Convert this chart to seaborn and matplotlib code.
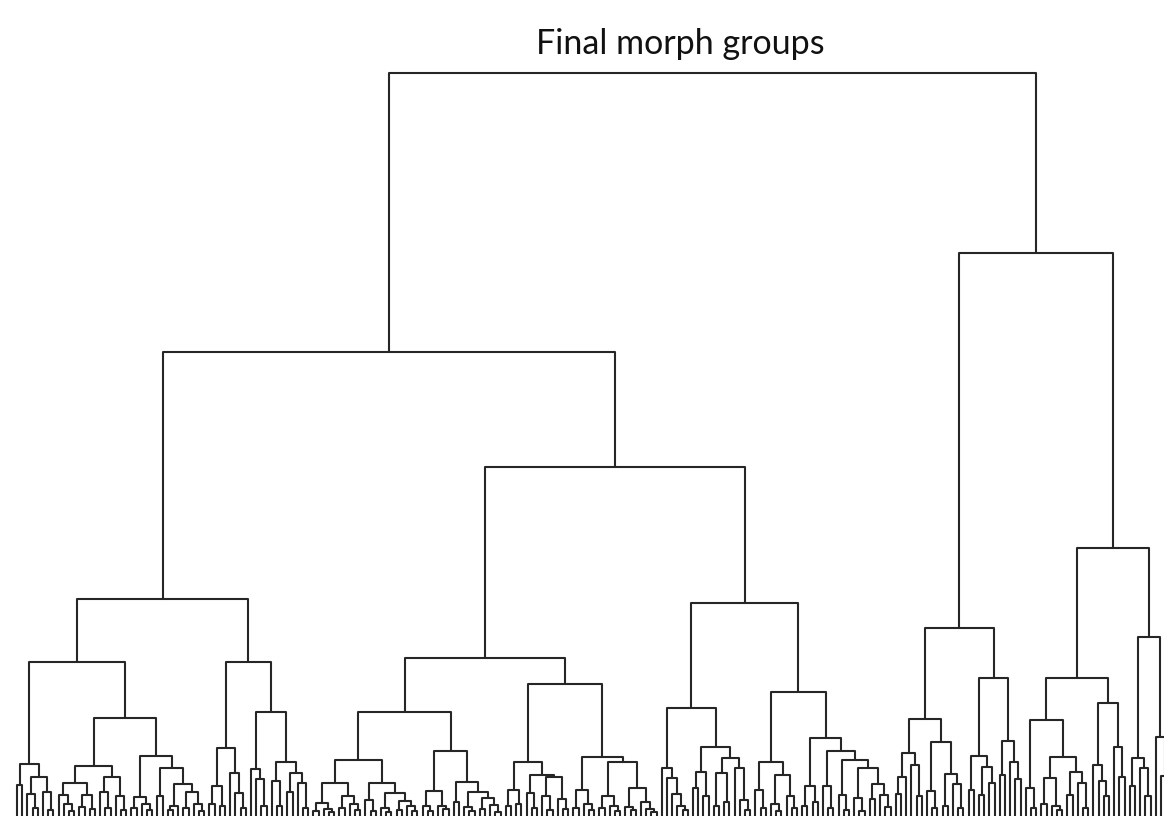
import matplotlib
matplotlib.use("Agg")
import matplotlib.pyplot as plt
import numpy as np
import pandas as pd
import seaborn as sns

# ---------------- data: tree in Newick-like form, "a" = leaf, number after ")" = merge height
title = "Final morph groups"

# left main branch, first group
P   = "((a,a)31,((a,(a,a)8)22,(a,(a,a)6)24)39)52"
Q1a = "((a,(a,(a,a)5)12)21,((a,a)9,(a,a)7)21)33"
Q1b = "((a,(a,a)8)24,(a,(a,a)6)20)39"
Q2a = "((a,a)8,(a,(a,a)6)12)19"
Q2b = "((a,a)20,(((a,a)6,a)10,((a,a)8,(a,(a,a)5)12)24)32)48"
# second group
C1L = "((a,a)12,(a,a)10)30"
C1R = "(a,(a,(a,a)8)23)43"
C2L = "(a,(a,(a,a)10)37)47"
C2R = "((a,(a,a)10)35,((a,a)24,(a,(a,a)8)33)43)54"
# third group
D1L = "(((a,a)5,(a,(a,a)4)7)13,((a,a)8,(a,(a,a)6)12)20)33"
D1R = "((a,(a,a)5)16,((a,(a,a)4)8,((a,a)6,(a,(a,a)5)10)15)23)33"
D2L = "((a,(a,a)5)10,(a,(a,a)7)10)25"
D2R = "((a,a)14,((a,(a,a)5)9,((a,a)7,(a,(a,a)4)11)18)24)34"
E1L = "((a,a)10,(a,a)12)26"
E1R = "((a,(a,a)8)23,((a,(a,a)6)20,(a,(a,a)7)17)39)41"
E2L = "((a,a)8,(a,(a,a)6)12)26"
E2R = "(((a,a)8,(a,(a,a)5)10)20,((a,(a,a)6)9,(a,(a,(a,a)4)7)14)28)54"
# fourth group
F1  = "(a,(a,(a,(a,(a,a)6)10)22)38)48"
F2L = "((a,a)28,(a,a)20)44"
F2R = "(((a,a)10,(a,a)14)43,(a,(a,(a,a)6)16)48)58"
G1  = "((a,(a,a)8)26,((a,(a,a)5)12,(a,(a,a)8)20)41)54"
G2  = "((a,a)10,(a,a)14)30"
G3  = "(a,(a,a)8)30"
G4  = "(a,(a,a)6)21"
G5  = "(a,(a,a)5)18"
G6  = "((a,a)17,(a,(a,a)9)21)32"
# right main branch
H1 = "((a,a)22,a)39"
H2 = "(a,(a,a)20)51"
H3 = "(a,(a,a)8)25"
H4 = "((a,a)10,(a,(a,a)8)32)42"
I1 = "((a,a)26,((a,a)21,(a,a)33)49)60"
I2 = "((a,a)41,(a,(a,a)37)54)75"
J1 = "(a,(a,a)8)28"
J2 = "(((a,a)12,(a,(a,a)6)10)38,((a,a)21,(a,(a,a)8)33)44)59"
K1 = "(a,(a,(a,a)20)35)51"
K2 = "(a,(a,a)39)69"
L1 = "((a,a)30,(a,(a,a)20)48)58"
L2 = "(a,(a,(a,a)20)40)79"

A1a = f"({P},(({Q1a},{Q1b})50,({Q2a},{Q2b})60)98)154"
A1b = f"(({C1L},{C1R})68,({C2L},{C2R})104)154"
A2a = f"((({D1L},{D1R})56,({D2L},{D2R})65)104,(({E1L},{E1R})54,({E2L},{E2R})59)132)158"
A2b = f"(({F1},({F2L},{F2R})69)108,({G1},({G2},({G3},({G4},({G5},{G6})48)56)65)78)124)213"
B1 = f"((({H1},{H2})63,({H3},{H4})74)97,({I1},{I2})138)188"
B2 = f"((({J1},{J2})96,({K1},{K2})113)138,({L1},{L2})179)268"
tree = f"((({A1a},{A1b})217,({A2a},{A2b})349)464,({B1},{B2})563)743"


# ---------------- parse
def parse(s):
    pos = 0

    def node():
        nonlocal pos
        if s[pos] == "a":
            pos += 1
            return {"children": [], "h": 0.0}
        assert s[pos] == "("
        pos += 1
        kids = [node()]
        while s[pos] == ",":
            pos += 1
            kids.append(node())
        assert s[pos] == ")"
        pos += 1
        start = pos
        while pos < len(s) and (s[pos].isdigit() or s[pos] == "."):
            pos += 1
        return {"children": kids, "h": float(s[start:pos])}

    return node()


root = parse(tree)

leaf_counter = [0]


def layout(n):
    if not n["children"]:
        n["x"] = float(leaf_counter[0])
        leaf_counter[0] += 1
    else:
        for c in n["children"]:
            layout(c)
        xs = [c["x"] for c in n["children"]]
        n["x"] = (xs[0] + xs[-1]) / 2.0


layout(root)

rows = []
seg = [0]


def collect(n):
    if not n["children"]:
        return
    kids = n["children"]
    a, b = kids[0], kids[-1]
    pts = [(a["x"], a["h"]), (a["x"], n["h"]), (b["x"], n["h"]), (b["x"], b["h"])]
    for i, (x, y) in enumerate(pts):
        rows.append({"seg": seg[0], "order": i, "x": x, "y": y})
    seg[0] += 1
    for c in kids:
        collect(c)


collect(root)
df = pd.DataFrame(rows)

# ---------------- draw
sns.set_theme(style="white")
plt.rcParams["font.family"] = ["Lato", "DejaVu Sans"]

W, H = 1164, 816
fig = plt.figure(figsize=(W / 100, H / 100), dpi=100)
ax = fig.add_axes([0, 0, 1, 1])

sns.lineplot(data=df, x="x", y="y", units="seg", estimator=None, sort=False,
             color="#262626", linewidth=1.5, ax=ax, legend=False)

first_px, step_px = 17.0, 5.2
ax.set_xlim(-first_px / step_px, (W - first_px) / step_px)
ax.set_ylim(0, H)
ax.axis("off")

fig.text(680 / W, 1 - 44 / H, title, ha="center", va="center", fontsize=24.5, color="#111111")

fig.savefig("out.png", dpi=100)
